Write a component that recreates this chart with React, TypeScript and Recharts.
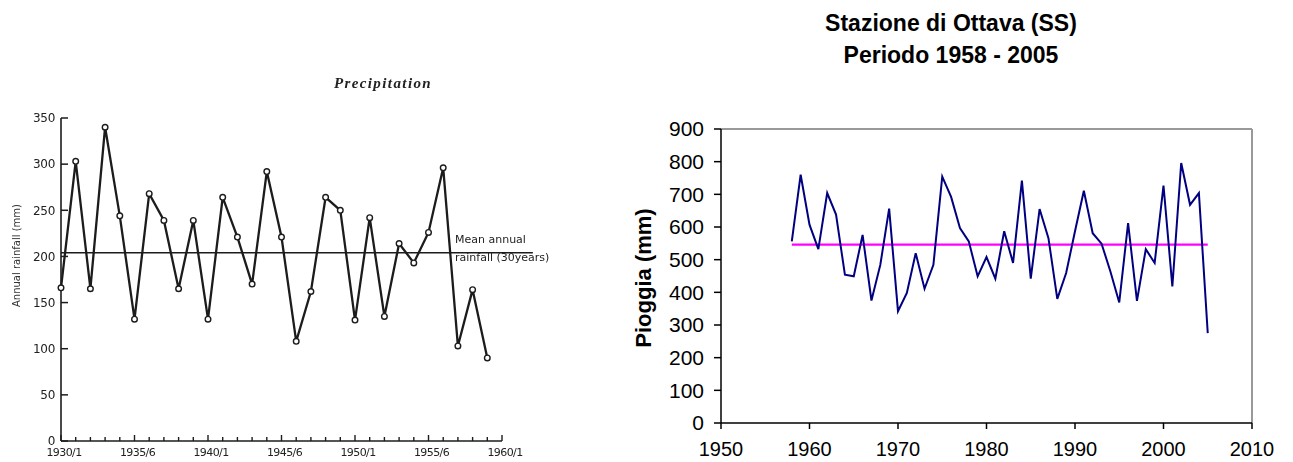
import { LineChart, Line, XAxis, YAxis, ReferenceLine, Label } from 'recharts';

// Annual rainfall, hydrological years 1930/1 .. 1959/60
const precipStartYear = 1930;
const precipitation = [
  166, 303, 165, 340, 244, 132, 268, 239, 165, 239,
  132, 264, 221, 170, 292, 221, 108, 162, 264, 250,
  131, 242, 135, 214, 193, 226, 296, 103, 164, 90,
];
const precipMean = 204;
const precipYTicks = [0, 50, 100, 150, 200, 250, 300, 350];
const precipXLabels: Record<number, string> = {
  1930: '1930/1',
  1935: '1935/6',
  1940: '1940/1',
  1945: '1945/6',
  1950: '1950/1',
  1955: '1955/6',
  1960: '1960/1',
};
const precipXTicks = Array.from({ length: 31 }, (_, i) => 1930 + i);

// Stazione di Ottava (SS), 1958 - 2005
const ottavaStartYear = 1958;
const ottavaRain = [
  556, 760, 607, 532, 704, 638, 454, 449, 576, 375,
  484, 656, 342, 398, 520, 411, 484, 754, 692, 597,
  556, 449, 508, 442, 587, 490, 742, 442, 655, 566,
  380, 459, 587, 711, 581, 549, 464, 369, 612, 374,
  532, 490, 727, 418, 796, 668, 704, 275,
];
const ottavaMean = 546;
const ottavaYTicks = [0, 100, 200, 300, 400, 500, 600, 700, 800, 900];
const ottavaXTicks = [1950, 1960, 1970, 1980, 1990, 2000, 2010];

const precipData = precipitation.map((rain, i) => ({ year: precipStartYear + i, rain }));
const ottavaData = ottavaRain.map((rain, i) => ({ year: ottavaStartYear + i, rain }));

const scanFont = '"DejaVu Sans", sans-serif';
const ink = '#1c1c1c';
const arial = '"Liberation Sans", Arial, sans-serif';

function PrecipYTick({ x, y, payload }: any) {
  return (
    <g>
      <line x1={x} x2={x + 7} y1={y} y2={y} stroke={ink} strokeWidth={1.5} />
      <text x={x - 6} y={y} dy="0.36em" textAnchor="end" fontSize={12} letterSpacing={-0.3} fontFamily={scanFont} fill="#222">
        {payload.value}
      </text>
    </g>
  );
}

function PrecipXTick({ x, y, payload }: any) {
  const label = precipXLabels[payload.value];
  return (
    <g>
      <line x1={x} x2={x} y1={y} y2={y - (label ? 6 : 4)} stroke={ink} strokeWidth={1.4} />
      {label && (
        <text
          x={x + 3}
          y={y + 15}
          textAnchor="middle"
          fontSize={11}
          letterSpacing={-0.6}
          fontFamily={scanFont}
          fill="#222"
        >
          {label}
        </text>
      )}
    </g>
  );
}

function OpenDot({ cx, cy }: any) {
  return <circle cx={cx} cy={cy} r={2.8} fill="#fff" stroke={ink} strokeWidth={1.4} />;
}

function RotatedTitle({ viewBox, text, dx, dy, size, weight, family, color }: any) {
  const x = viewBox.x + dx;
  const y = viewBox.y + viewBox.height / 2 + dy;
  return (
    <text
      x={x}
      y={y}
      transform={`rotate(-90 ${x} ${y})`}
      textAnchor="middle"
      dominantBaseline="central"
      fontSize={size}
      fontWeight={weight}
      fontFamily={family}
      fill={color}
    >
      {text}
    </text>
  );
}

function PrecipitationChart() {
  return (
    <LineChart width={600} height={462} data={precipData} margin={{ top: 118, right: 98, bottom: 0, left: 0 }}>
      <XAxis
        dataKey="year"
        type="number"
        domain={[1930, 1960]}
        ticks={precipXTicks}
        interval={0}
        height={21}
        tickSize={0}
        tickMargin={0}
        tickLine={false}
        axisLine={{ stroke: ink, strokeWidth: 1.6 }}
        tick={<PrecipXTick />}
      />
      <YAxis
        type="number"
        domain={[0, 350]}
        ticks={precipYTicks}
        interval={0}
        width={61}
        tickSize={0}
        tickMargin={0}
        tickLine={false}
        axisLine={{ stroke: ink, strokeWidth: 1.6 }}
        tick={<PrecipYTick />}
      >
        <Label
          content={(props: any) => (
            <RotatedTitle
              {...props}
              text="Annual rainfall (mm)"
              dx={16}
              dy={-24}
              size={10}
              weight="normal"
              family={scanFont}
              color="#333"
            />
          )}
        />
      </YAxis>
      <ReferenceLine
        segment={[
          { x: 1930, y: precipMean },
          { x: 1962.1, y: precipMean },
        ]}
        ifOverflow="visible"
        stroke={ink}
        strokeWidth={1.3}
      />
      <Line
        dataKey="rain"
        type="linear"
        stroke={ink}
        strokeWidth={2.3}
        dot={<OpenDot />}
        activeDot={false}
        isAnimationActive={false}
      />
    </LineChart>
  );
}

function OttavaChart() {
  const tickStyle = { fill: '#000', fontSize: 20, fontFamily: arial };
  return (
    <LineChart width={693} height={462} data={ottavaData} margin={{ top: 129, right: 41, bottom: 0, left: 0 }}>
      <XAxis
        dataKey="year"
        type="number"
        domain={[1950, 2010]}
        ticks={ottavaXTicks}
        interval={0}
        height={39}
        tickSize={6}
        tickMargin={13}
        axisLine={{ stroke: '#000', strokeWidth: 1.5 }}
        tickLine={{ stroke: '#000', strokeWidth: 1.5 }}
        tick={tickStyle}
      />
      <YAxis
        type="number"
        domain={[0, 900]}
        ticks={ottavaYTicks}
        interval={0}
        width={121}
        tickSize={7}
        tickMargin={10}
        axisLine={{ stroke: '#000', strokeWidth: 1.5 }}
        tickLine={{ stroke: '#000', strokeWidth: 1.5 }}
        tick={{ ...tickStyle, fontSize: 21 }}
      >
        <Label
          content={(props: any) => (
            <RotatedTitle
              {...props}
              text="Pioggia (mm)"
              dx={43}
              dy={2}
              size={22}
              weight="bold"
              family={arial}
              color="#000"
            />
          )}
        />
      </YAxis>
      {/* grey frame on the top and right of the plot area */}
      <ReferenceLine y={900} stroke="#999" strokeWidth={2} />
      <ReferenceLine x={2010} stroke="#999" strokeWidth={2} />
      <ReferenceLine
        segment={[
          { x: 1958, y: ottavaMean },
          { x: 2005, y: ottavaMean },
        ]}
        stroke="#ff00ff"
        strokeWidth={2.2}
      />
      <Line
        dataKey="rain"
        type="linear"
        stroke="#000080"
        strokeWidth={2}
        dot={false}
        activeDot={false}
        isAnimationActive={false}
      />
    </LineChart>
  );
}

export default function App() {
  return (
    <div style={{ position: 'absolute', left: 0, top: 0, width: 1293, height: 462, background: '#fff', overflow: 'hidden' }}>
      <div style={{ position: 'absolute', left: 0, top: 0, filter: 'blur(0.35px)' }}>
        <PrecipitationChart />
        <div
          style={{
            position: 'absolute',
            left: 283,
            width: 200,
            top: 74,
            textAlign: 'center',
            fontFamily: '"Liberation Serif", "Times New Roman", serif',
            fontStyle: 'italic',
            fontWeight: 'bold',
            fontSize: 15,
            lineHeight: '18px',
            letterSpacing: 1.4,
            color: '#222',
          }}
        >
          Precipitation
        </div>
        <div
          style={{
            position: 'absolute',
            left: 455,
            top: 231,
            fontFamily: scanFont,
            fontSize: 11,
            lineHeight: '18px',
            color: '#222',
            whiteSpace: 'nowrap',
          }}
        >
          Mean annual
          <br />
          rainfall (30years)
        </div>
      </div>
      <div style={{ position: 'absolute', left: 600, top: 0 }}>
        <OttavaChart />
      </div>
      <div
        style={{
          position: 'absolute',
          left: 751,
          width: 400,
          top: 8,
          textAlign: 'center',
          fontFamily: arial,
          fontWeight: 'bold',
          fontSize: 23,
          lineHeight: '31.6px',
          color: '#000',
        }}
      >
        Stazione di Ottava (SS)
        <br />
        Periodo 1958 - 2005
      </div>
    </div>
  );
}
